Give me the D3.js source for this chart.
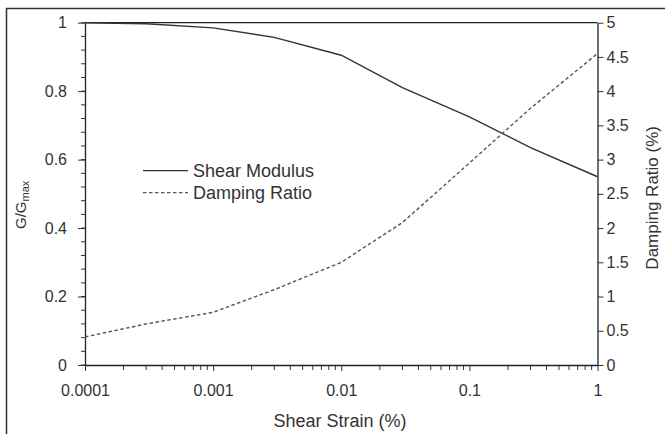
<!DOCTYPE html>
<html><head><meta charset="utf-8">
<script src="https://cdn.jsdelivr.net/npm/d3@7"></script>
<style>
html,body{margin:0;padding:0;background:#fff;}
svg{display:block;}
text{font-family:"Liberation Sans",Arial,sans-serif;fill:#333;}
</style></head>
<body>
<script>
// ---- data ----
const strain = [0.0001, 0.0003, 0.001, 0.003, 0.01, 0.03, 0.1, 0.3, 1];
const modulus = [1.0, 0.997, 0.985, 0.957, 0.905, 0.81, 0.725, 0.635, 0.55];
const damping = [0.41, 0.6, 0.77, 1.1, 1.5, 2.08, 2.95, 3.75, 4.55];
const xTicks = [0.0001, 0.001, 0.01, 0.1, 1];
const xTickLabels = ["0.0001", "0.001", "0.01", "0.1", "1"];
const leftTicks = [0, 0.2, 0.4, 0.6, 0.8, 1];
const rightTicks = [0, 0.5, 1, 1.5, 2, 2.5, 3, 3.5, 4, 4.5, 5];
const seriesNames = ["Shear Modulus", "Damping Ratio"];

const W = 665, H = 434;
const L = 85, R = 597.5, T = 22.7, B = 365;
const FF = '"Liberation Sans",Arial,sans-serif';

const svg = d3.select("body").append("svg").attr("width", W).attr("height", H);

// outer frame (cropped on right/bottom)
svg.append("path").attr("d", `M6.5,${H}V8.5H${W}`).attr("fill","none").attr("stroke","#333").attr("stroke-width",1.5);

const x = d3.scaleLog().domain([0.0001, 1]).range([L, R]);
const yL = d3.scaleLinear().domain([0, 1]).range([B, T]);
const yR = d3.scaleLinear().domain([0, 5]).range([B, T]);

// minor ticks x
const xMinor = [];
for (let e = -4; e < 0; e++) for (let m = 2; m <= 9; m++) xMinor.push(m * Math.pow(10, e));

const gx = svg.append("g").attr("transform", `translate(0,${B})`);
gx.selectAll("line.minor").data(xMinor).join("line")
  .attr("x1", d => x(d)).attr("x2", d => x(d)).attr("y1", 0).attr("y2", 5)
  .attr("stroke", "#333").attr("stroke-width", 1);
gx.call(d3.axisBottom(x).tickValues(xTicks).tickFormat((d, i) => xTickLabels[i]).tickSizeInner(6).tickSizeOuter(0).tickPadding(14));
gx.select(".domain").attr("stroke", "#222").attr("stroke-width", 1.3);
gx.selectAll(".tick line").attr("stroke", "#333");
gx.selectAll(".tick text").style("font-size", "16px").attr("fill", "#333").style("font-family", FF);

// left axis
const leftMinor = d3.range(0, 1.0001, 0.04);
const gl = svg.append("g").attr("transform", `translate(${L},0)`);
gl.selectAll("line.minor").data(leftMinor).join("line")
  .attr("x1", -4).attr("x2", 0).attr("y1", d => yL(d)).attr("y2", d => yL(d))
  .attr("stroke", "#333").attr("stroke-width", 1);
gl.call(d3.axisLeft(yL).tickValues(leftTicks).tickFormat(d3.format("")).tickSizeInner(7).tickSizeOuter(0).tickPadding(11));
gl.select(".domain").attr("stroke", "#222").attr("stroke-width", 1.3);
gl.selectAll(".tick line").attr("stroke", "#333");
gl.selectAll(".tick text").style("font-size", "16px").attr("fill", "#333").style("font-family", FF);

// right axis
const gr = svg.append("g").attr("transform", `translate(${R},0)`);
gr.call(d3.axisRight(yR).tickValues(rightTicks).tickFormat(d3.format("")).tickSizeInner(6).tickSizeOuter(0).tickPadding(3));
gr.select(".domain").attr("stroke", "#222").attr("stroke-width", 1.3);
gr.selectAll(".tick line").attr("stroke", "#333");
gr.selectAll(".tick text").style("font-size", "16px").attr("fill", "#333").style("font-family", FF);

// top border
svg.append("line").attr("x1", L).attr("x2", R).attr("y1", T).attr("y2", T).attr("stroke", "#222").attr("stroke-width", 1.3);

// series
const modLine = d3.line().x((d, i) => x(strain[i])).y(d => yL(d));
const dampLine = d3.line().x((d, i) => x(strain[i])).y(d => yR(d));
svg.append("path").attr("d", modLine(modulus)).attr("fill", "none").attr("stroke", "#333").attr("stroke-width", 1.4);
svg.append("path").attr("d", dampLine(damping)).attr("fill", "none").attr("stroke", "#555").attr("stroke-width", 1.4).attr("stroke-dasharray", "3.5,2.5");

// legend
const leg = svg.append("g");
seriesNames.forEach((name, i) => {
  const yy = 170.7 + i * 22;
  leg.append("line").attr("x1", 143).attr("x2", 188).attr("y1", yy).attr("y2", yy)
    .attr("stroke", i === 0 ? "#333" : "#555").attr("stroke-width", 1.3)
    .attr("stroke-dasharray", i === 0 ? null : "3.5,2.5");
  leg.append("text").attr("x", 193).attr("y", yy + 6).style("font-size", "18px").text(name);
});

// axis titles
svg.append("text").attr("x", 340).attr("y", 427).attr("text-anchor", "middle").style("font-size", "18px").text("Shear Strain (%)");
const gt = svg.append("text").attr("transform", `translate(26,${(T + B) / 2 + 11}) rotate(-90)`).attr("text-anchor", "middle").style("font-size", "15px");
gt.append("tspan").text("G/G");
gt.append("tspan").attr("dy", 3).style("font-size", "11px").text("max");
svg.append("text").attr("transform", `translate(658,${(T + B) / 2 + 4}) rotate(-90)`).attr("text-anchor", "middle").style("font-size", "17px").text("Damping Ratio (%)");
</script>
</body></html>
